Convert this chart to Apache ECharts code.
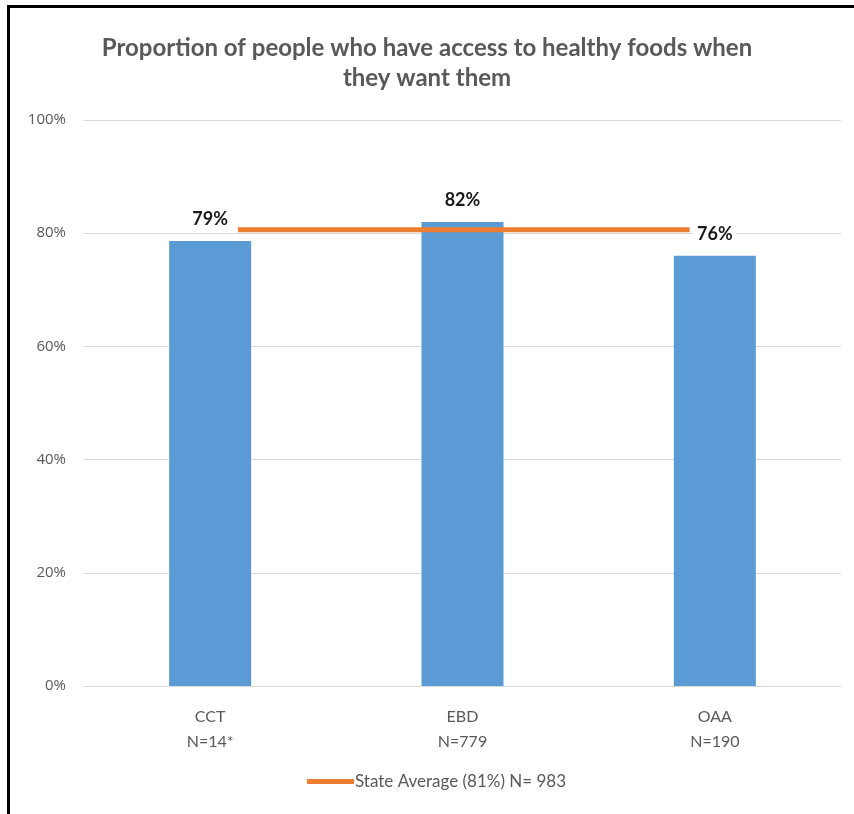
<!DOCTYPE html>
<html>
<head>
<meta charset="utf-8">
<script src="https://cdn.jsdelivr.net/npm/echarts@6/dist/echarts.min.js"></script>
<style>
html,body{margin:0;padding:0;background:#fff;}
#chart{position:absolute;left:0;top:0;width:854px;height:814px;}
#frame{position:absolute;left:7px;top:5px;width:860px;height:820px;border-top:3px solid #000;border-left:3px solid #000;pointer-events:none;}
</style>
</head>
<body>
<div id="chart"></div>
<div id="frame"></div>
<script>
const titleText = 'Proportion of people who have access to healthy foods when\nthey want them';
const categories = ['CCT\nN=14*', 'EBD\nN=779', 'OAA\nN=190'];
const barValues = [78.6, 82.0, 76.0];
const barLabels = ['79%', '82%', '76%'];
const stateName = 'State Average (81%) N= 983';
const stateValue = 80.6;
const stateSpan = [0.61, 2.40];
const yTicks = [0, 20, 40, 60, 80, 100];

const chart = echarts.init(document.getElementById('chart'));
chart.setOption({
  animation: false,
  backgroundColor: '#fff',
  title: {
    text: titleText,
    left: 'center',
    top: 28,
    textStyle: {fontFamily: 'Lato', fontWeight: 'bold', fontSize: 24, color: '#595959', lineHeight: 30}
  },
  legend: {
    bottom: 19,
    left: 302,
    itemWidth: 47,
    itemHeight: 5,
    itemGap: 0,
    data: [{name: stateName, icon: 'rect'}],
    textStyle: {fontFamily: 'Lato', fontSize: 17, color: '#595959', padding: [0,0,0,-4]}
  },
  grid: {left: 84, right: 13, top: 120, bottom: 128},
  xAxis: [{
    type: 'category',
    data: categories,
    axisLine: {lineStyle: {color: '#d9d9d9'}},
    axisTick: {show: false},
    axisLabel: {fontFamily: 'Lato', fontSize: 16, color: '#595959', lineHeight: 25, margin: 18}
  }, {
    type: 'value', min: 0, max: 3, show: false
  }],
  yAxis: {
    type: 'value', min: 0, max: 100, interval: 20,
    axisLine: {show: false}, axisTick: {show: false},
    splitLine: {lineStyle: {color: '#d9d9d9'}},
    axisLabel: {fontFamily: 'Open Sans', fontSize: 15, color: '#595959', margin: 18,
      formatter: v => yTicks.includes(v) ? v + '%' : ''}
  },
  series: [{
    type: 'bar',
    data: barValues,
    barWidth: '32.5%',
    itemStyle: {color: '#5b9bd5'},
    label: {
      show: true, position: 'top', distance: 11,
      formatter: p => barLabels[p.dataIndex],
      fontFamily: 'Lato', fontWeight: 'bold', fontSize: 18, color: '#1a1a1a',
      backgroundColor: '#fff', padding: [2, 4]
    },
    z: 2
  }, {
    name: stateName,
    type: 'line',
    xAxisIndex: 1,
    data: stateSpan.map(x => [x, stateValue]),
    symbol: 'none',
    lineStyle: {color: '#ed7d31', width: 5},
    itemStyle: {color: '#ed7d31'},
    z: 3
  }]
});
</script>
</body>
</html>
